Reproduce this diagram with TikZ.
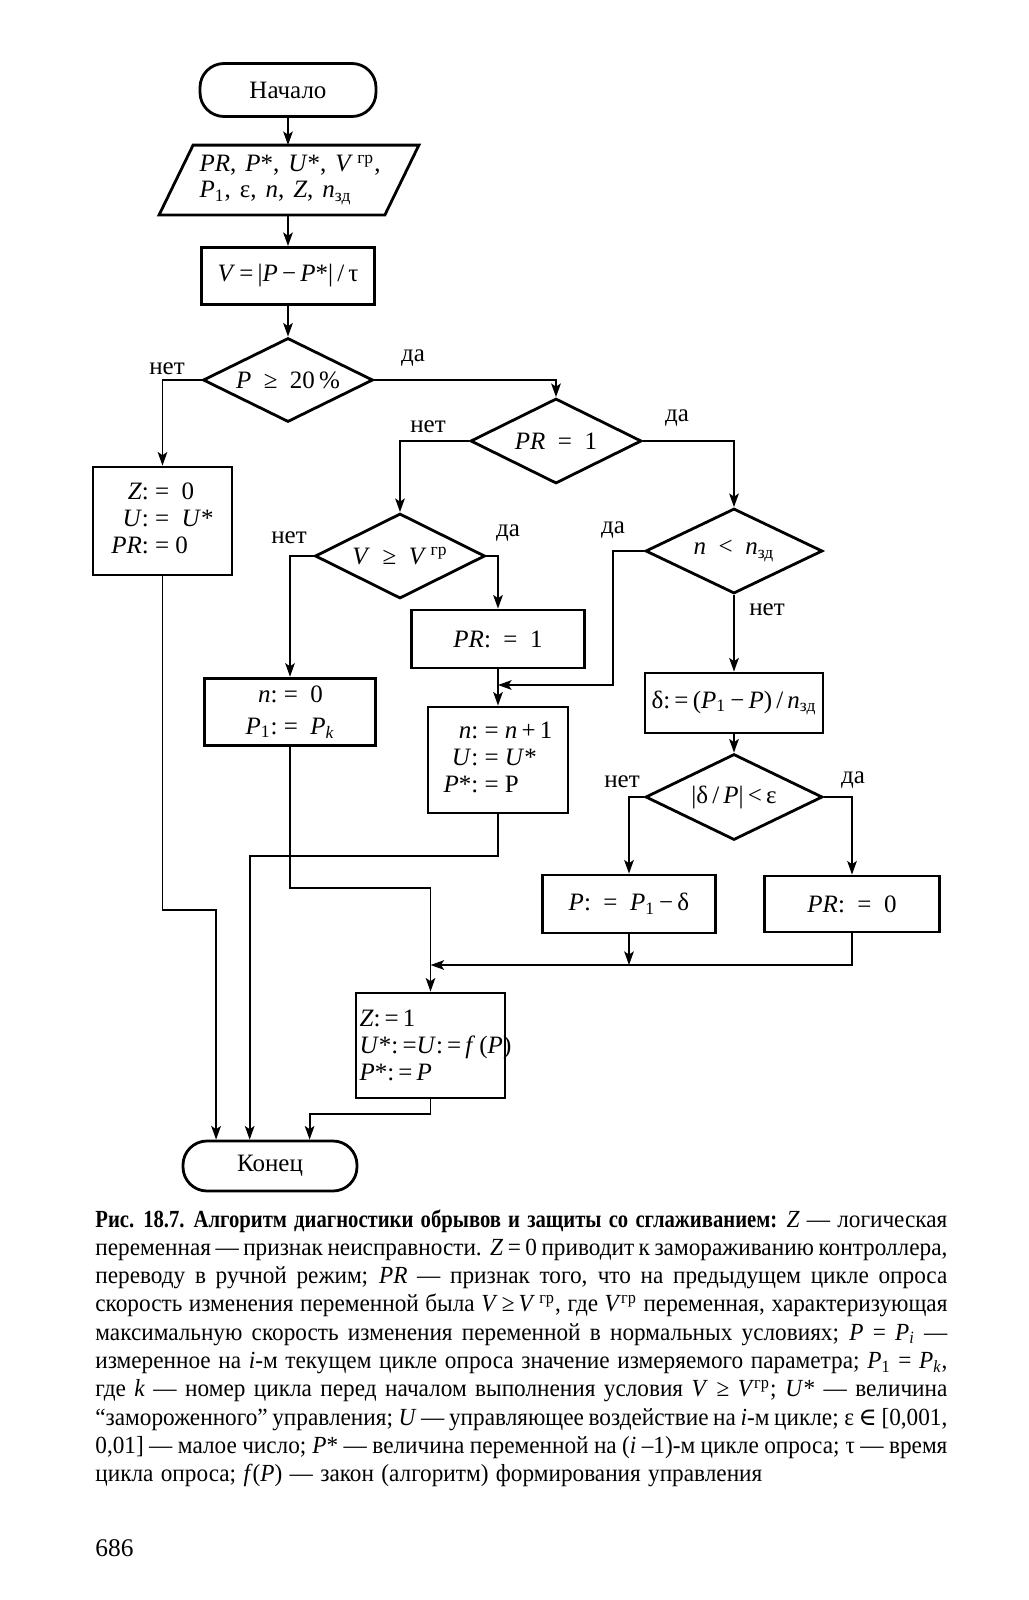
\documentclass[tikz,border=0pt]{standalone}
\usepackage{fontspec}
\setmainfont{Liberation Serif}
\newfontfamily\dvs{DejaVu Serif}
\newfontfamily\capfont[FakeStretch=0.945]{Liberation Serif}
\newfontfamily\capbold[FakeStretch=0.84]{Liberation Serif}
\usetikzlibrary{shapes.geometric,shapes.misc,arrows.meta,calc}
\newcommand{\I}[1]{\textit{#1}}
\newcommand{\gr}{\textsuperscript{гр}}
\newcommand{\zd}{\textsubscript{зд}}
\newcommand{\gp}{\hspace{0.36em}}
\newcommand{\capline}[1]{\hbox to \hsize{#1}}
\tikzset{
  dfont/.style={font=\fontsize{12.5}{13.5}\selectfont},
  blk/.style={dfont, draw, line width=1.4pt, rectangle, inner sep=1pt, align=center},
  term/.style={dfont, draw, line width=1.4pt, rectangle, rounded corners=12pt, inner sep=1pt},
  dia/.style={dfont, draw, line width=1.4pt, diamond, aspect=2, inner sep=0pt},
  iobox/.style={dfont, rectangle, inner sep=0pt, align=left},
  conn/.style={line width=0.95pt},
  arr/.style={conn, -{Stealth[length=6.8pt,width=4.8pt,inset=1.6pt]}},
  lbl/.style={dfont, inner sep=0pt}
}
\begin{document}
\begin{tikzpicture}[x=0.5pt,y=-0.5pt]
\fill[white] (0,0) rectangle (1028,1600);
\useasboundingbox (0,0) rectangle (1028,1600);

% terminals and blocks
\node[term, minimum width=88pt, minimum height=26.5pt] (start) at (288,90) {Начало};
\node[iobox, minimum width=112.5pt, minimum height=34.5pt] (in) at (290,180)
  {\I{PR},\gp\I{P}*,\gp\I{U}*,\gp\I{V}\,\gr,\\[-0.5pt]\I{P}\textsubscript{1},\gp ε,\gp\I{n},\gp\I{Z},\gp\I{n}\zd};
\draw[line width=1.4pt] ($(in.north west)+(16,0)$) -- ($(in.north east)+(16,0)$)
  -- ($(in.south east)+(-18,0)$) -- ($(in.south west)+(-18,0)$) -- cycle;
\node[blk, minimum width=86.5pt, minimum height=28.5pt] (box1) at (288,276)
  {\I{V}\,=\,|\I{P}\,−\,\I{P}*|\,/\,τ};
\node[dia, minimum width=85pt, minimum height=42pt] (d1) at (288,380) {\I{P} \ ≥ \ 20\,\%};
\node[blk, minimum width=69.5pt, minimum height=54pt] (bz0) at (162.5,521)
  {\begin{tabular}{@{}r@{}l@{}}\I{Z}: & \ = \ 0\\ \I{U}: & \ = \ \I{U}*\\ \I{PR}: & \ = 0\end{tabular}};
\node[dia, minimum width=85.5pt, minimum height=42.5pt] (d2) at (556,441) {\I{PR} \ = \ 1};
\node[dia, minimum width=85pt, minimum height=42.5pt] (d3) at (400,556) {\I{V} \ ≥ \ \I{V}\,\gr};
\node[dia, minimum width=88.5pt, minimum height=42.5pt] (d4) at (734,551) {\I{n} \ < \ \I{n}\zd};
\node[blk, minimum width=86.5pt, minimum height=29pt] (bPR1) at (498,639) {\I{PR}: \ = \ 1};
\node[blk, minimum width=85.5pt, minimum height=28.5pt] (bn0) at (290,712)
  {\renewcommand{\arraystretch}{1.18}\begin{tabular}{@{}r@{}l@{}}\I{n}: & \ = \ 0\\ \I{P}\textsubscript{1}: & \ = \ \I{P\textsubscript{k}}\end{tabular}};
\node[blk, minimum width=70pt, minimum height=53pt] (bnn) at (498,760)
  {\begin{tabular}{@{}r@{}l@{}}\I{n}: & \ = \I{n}\,+\,1\\ \I{U}: & \ = \I{U}*\\ \I{P}*: & \ = P\end{tabular}};
\node[blk, minimum width=89pt, minimum height=30pt] (bdelta) at (734,703)
  {δ:\,=\,(\I{P}\textsubscript{1}\,−\,\I{P})\,/\,\I{n}\zd};
\node[dia, minimum width=88.5pt, minimum height=43pt] (d5) at (734,797) {|δ\,/\,\I{P}|\,<\,ε};
\node[blk, minimum width=86.5pt, minimum height=29pt] (bP) at (629,904) {\I{P}: \ = \ \I{P}\textsubscript{1}\,−\,δ};
\node[blk, minimum width=87.5pt, minimum height=28pt] (bPR0) at (852,904) {\I{PR}: \ = \ 0};
\node[blk, minimum width=74.5pt, minimum height=52.5pt, text width=71pt, inner xsep=1.75pt, align=left] (bz1) at (430.5,1045.5)
  {\I{Z}:\,=\,1\\ \I{U}*:\,=\I{U}:\,=\,\I{f}\,(\I{P})\\ \I{P}*:\,=\,\I{P}};
\node[term, minimum width=87pt, minimum height=25pt] (end) at (270,1166) {Конец};

% labels
\node[lbl] (l1) at (167,369) {нет};
\node[lbl] (l2) at (413,358) {да};
\node[lbl] (l3) at (428,427) {нет};
\node[lbl] (l4) at (677,418) {да};
\node[lbl] (l5) at (289,538) {нет};
\node[lbl] (l6) at (508,533) {да};
\node[lbl] (l7) at (613,530) {да};
\node[lbl] (l8) at (767,610) {нет};
\node[lbl] (l9) at (622,782) {нет};
\node[lbl] (l10) at (853,780) {да};

% helper coordinates
\coordinate (j1) at (613,685);
\coordinate (j2) at (630,965);
\coordinate (j3) at (293,888);
\coordinate (j4) at (165,910);
\coordinate (j5) at (502,856);
\coordinate (j6) at (432,1114);
\coordinate (e1) at ($(end.north west)!0.195!(end.north east)$);
\coordinate (e2) at ($(end.north west)!0.385!(end.north east)$);
\coordinate (e3) at ($(end.north west)!0.724!(end.north east)$);

% connectors
\draw[arr] (start.south) -- (start.south |- in.north);
\draw[arr] (in.south -| box1.north) -- (box1.north);
\draw[arr] (box1.south) -- (d1.north);
\draw[arr] (d1.west) -| (bz0.north);
\draw[arr] (d1.east) -| (d2.north);
\draw[arr] (d2.west) -| (d3.north);
\draw[arr] (d2.east) -| (d4.north);
\draw[arr] (d3.west) -| (bn0.north);
\draw[arr] (d3.east) -| (bPR1.north);
\draw[arr] (bPR1.south) -- (bnn.north);
\draw[arr] (d4.west) -| (j1) -- (bnn.north |- j1);
\draw[arr] (d4.south) -- (bdelta.north);
\draw[arr] (bdelta.south) -- (d5.north);
\draw[arr] (d5.west) -| (bP.north);
\draw[arr] (d5.east) -| (bPR0.north);
\draw[arr] (bP.south) -- (bP.south |- j2);
\draw[arr] (bPR0.south) |- (bz1.north |- j2);
\draw[arr] (bn0.south) -- (bn0.south |- j3) -| (bz1.north);
\draw[arr] (bz0.south) -- (bz0.south |- j4) -| (e1);
\draw[arr] (bnn.south) -- (bnn.south |- j5) -| (e2);
\draw[arr] (bz1.south) -- (bz1.south |- j6) -| (e3);

% caption
\node[anchor=base west, inner sep=0pt] (caption) at (95,1227)
{\capfont\fontsize{12.3}{14.15}\selectfont
\vtop{\hsize=426pt \baselineskip=14.15pt \lineskiplimit=-20pt
\spaceskip=0.3em plus 0.35em minus 0.15em
\capline{{\capbold\bfseries Рис. 18.7. Алгоритм диагностики обрывов и защиты со сглаживанием:} \I{Z} — логическая}
\capline{переменная — признак неисправности. \I{Z} = 0 приводит к замораживанию контроллера,}
\capline{переводу в ручной режим; \I{PR} — признак того, что на предыдущем цикле опроса}
\capline{скорость изменения переменной была \I{V}\,≥\,\I{V}\,\gr, где \I{V}\gr{} переменная, характеризующая}
\capline{максимальную скорость изменения переменной в нормальных условиях; \I{P} = \I{P\textsubscript{i}} —}
\capline{измеренное на \I{i}-м текущем цикле опроса значение измеряемого параметра; \I{P}\textsubscript{1} = \I{P\textsubscript{k}},}
\capline{где \I{k} — номер цикла перед началом выполнения условия \I{V} ≥ \I{V}\gr; \I{U}* — величина}
\capline{“замороженного” управления; \I{U} — управляющее воздействие на \I{i}-м цикле; ε {\dvs ∈} [0,001,}
\capline{0,01] — малое число; \I{P}* — величина переменной на (\I{i} –1)-м цикле опроса; τ — время}
\hbox{цикла опроса; \I{f}(\I{P}) — закон (алгоритм) формирования управления}}};
\node[anchor=base west, inner sep=0pt, font=\fontsize{12.7}{14}\selectfont] (pagenum) at (95,1556) {686};
\end{tikzpicture}
\end{document}
